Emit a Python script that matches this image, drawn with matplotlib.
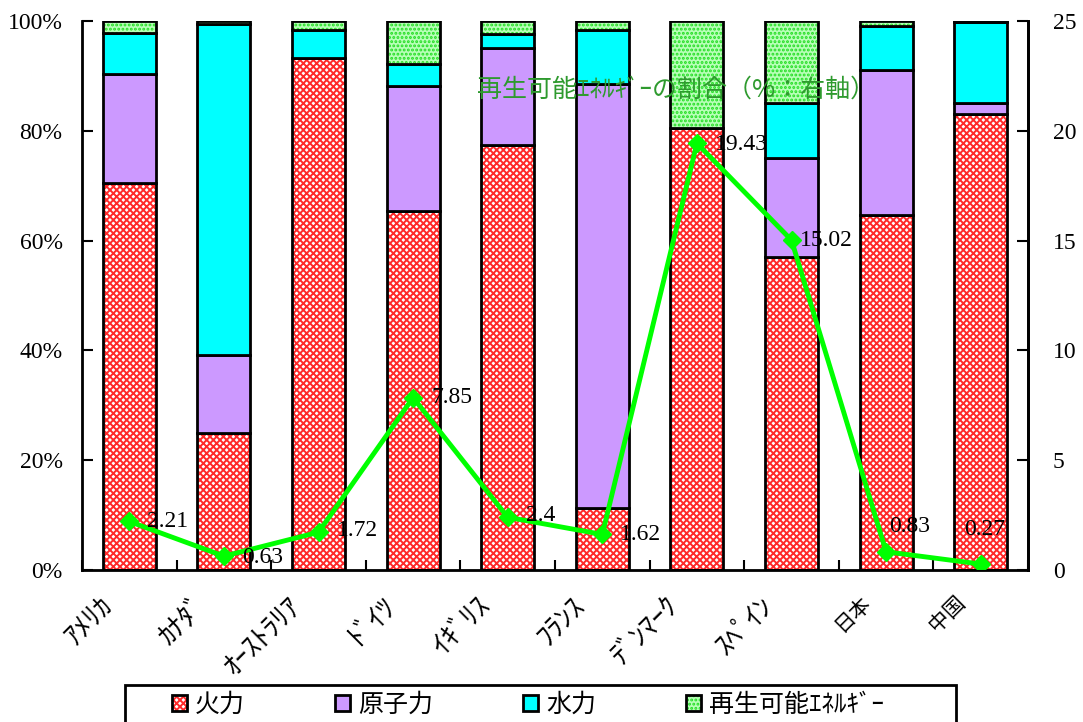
import numpy as np
import matplotlib
matplotlib.use("Agg")
import matplotlib.pyplot as plt
import matplotlib.transforms as mtransforms
from matplotlib.patches import Rectangle
from matplotlib.ticker import FixedLocator, FuncFormatter

plt.rcParams['font.family'] = ['Noto Sans CJK JP', 'DejaVu Sans']
plt.rcParams['hatch.linewidth'] = 1.4

# 発電電力量の電源別構成比 (%)
countries = ["ｱﾒﾘｶ", "ｶﾅﾀﾞ", "ｵｰｽﾄﾗﾘｱ", "ﾄﾞｲﾂ", "ｲｷﾞﾘｽ", "ﾌﾗﾝｽ", "ﾃﾞﾝﾏｰｸ", "ｽﾍﾟｲﾝ", "日本", "中国"]
fire = [70.5, 25.0, 93.3, 65.4, 77.4, 11.3, 80.57, 57.0, 64.7, 83.1]
nuclear = [19.8, 14.2, 0.0, 22.8, 17.7, 77.2, 0.0, 18.0, 26.4, 2.0]
hydro = [7.49, 60.17, 4.98, 3.95, 2.5, 9.88, 0.0, 9.98, 8.07, 14.63]
renewable = [2.21, 0.63, 1.72, 7.85, 2.4, 1.62, 19.43, 15.02, 0.83, 0.27]

# label offsets (points) for the renewable share values
label_offsets = [(13, 0), (13, -1), (13, 1), (13, 0), (13, 1), (13, 0), (13, -1), (6, 0), (2, 18), (-12, 25)]

x = np.arange(len(countries))
w = 0.56

fig = plt.figure(figsize=(10.83, 7.22), dpi=100)
ax = fig.add_axes([82 / 1083, 1 - 570 / 722, (1028 - 82) / 1083, 549 / 722])

series = [
    ("火力", fire, "white", "#ff2a2a", "xxxxx"),
    ("原子力", nuclear, "#cc99ff", None, None),
    ("水力", hydro, "#00ffff", None, None),
    ("再生可能ｴﾈﾙｷﾞｰ", renewable, "#b8ffb8", "#22dd22", "...."),
]

bottom = np.zeros(len(countries))
handles = []
for name, vals, fc, hc, hatch in series:
    vals = np.array(vals)
    parts = []
    if hatch:
        b1 = ax.bar(x, vals, w, bottom=bottom, color=fc, edgecolor=hc, hatch=hatch, linewidth=0)
        parts.append(b1)
    b2 = ax.bar(x, vals, w, bottom=bottom, facecolor=fc if not hatch else "none",
                edgecolor="black", linewidth=2)
    parts.append(b2)
    handles.append(tuple(parts))
    bottom += vals

ax.set_xlim(-0.5, len(countries) - 0.5)
ax.set_ylim(0, 100)
ax.set_yticks([0, 20, 40, 60, 80, 100])
ax.yaxis.set_major_formatter(FuncFormatter(lambda v, p: f"{v:.0f}%"))
ax.xaxis.set_major_locator(FixedLocator(np.arange(-0.5, len(countries), 1.0)))
ax.xaxis.set_minor_locator(FixedLocator(x))
ax.set_xticklabels([], minor=False)
ax.set_xticks(x, countries, minor=True, rotation=45, ha="right")
ax.tick_params(axis="x", which="major", direction="in", length=7, width=1.5)
ax.tick_params(axis="x", which="minor", length=0, pad=15)
shift = mtransforms.ScaledTranslation(-8 / 72, 0, fig.dpi_scale_trans)
for lbl in ax.get_xticklabels(minor=True):
    # half-width kana come out small, so they get a larger size than the kanji
    lbl.set_fontsize(15 if lbl.get_text() in ("日本", "中国") else 20)
    lbl.set_transform(lbl.get_transform() + shift)
ax.tick_params(axis="y", direction="in", length=8, width=1.5, pad=14)
for lbl in ax.get_yticklabels():
    lbl.set_family(["Liberation Serif"])
    lbl.set_fontsize(17)
ax.spines["top"].set_visible(False)
for s in ["left", "bottom", "right"]:
    ax.spines[s].set_linewidth(2)

ax2 = ax.twinx()
ax2.set_ylim(0, 25)
ax2.set_yticks([0, 5, 10, 15, 20, 25])
ax2.tick_params(axis="y", direction="in", length=8, width=1.5, pad=18)
for lbl in ax2.get_yticklabels():
    lbl.set_family(["Liberation Serif"])
    lbl.set_fontsize(17)
ax2.spines["top"].set_visible(False)
ax2.spines["right"].set_linewidth(2)

ax2.plot(x, renewable, color="#00ff00", linewidth=3.5, marker="D", markersize=9)
for xi, v, off in zip(x, renewable, label_offsets):
    ax2.annotate(f"{v:g}", (xi, v), xytext=off, textcoords="offset points",
                 ha="left", va="center", fontsize=17, family=["Liberation Serif"])

fig.text(676 / 1083, 1 - 90 / 722, "再生可能ｴﾈﾙｷﾞｰの割合（%：右軸）",
         ha="center", va="center", fontsize=18, color="#2e9a2e")

# legend box runs off the bottom edge
fig.add_artist(Rectangle((125 / 1083, -0.05), (956 - 125) / 1083, 0.05 + 1 - 685 / 722,
                         transform=fig.transFigure, fill=False, edgecolor="black", linewidth=2))
leg = fig.legend(handles, [s[0] for s in series], ncol=4, loc="upper left",
                 bbox_to_anchor=(172 / 1083, 1 - 692 / 722), frameon=False,
                 fontsize=18, handlelength=0.6, handleheight=0.6,
                 handletextpad=0.32, columnspacing=3.6, borderpad=0, borderaxespad=0)

fig.savefig("out.png", dpi=100)
